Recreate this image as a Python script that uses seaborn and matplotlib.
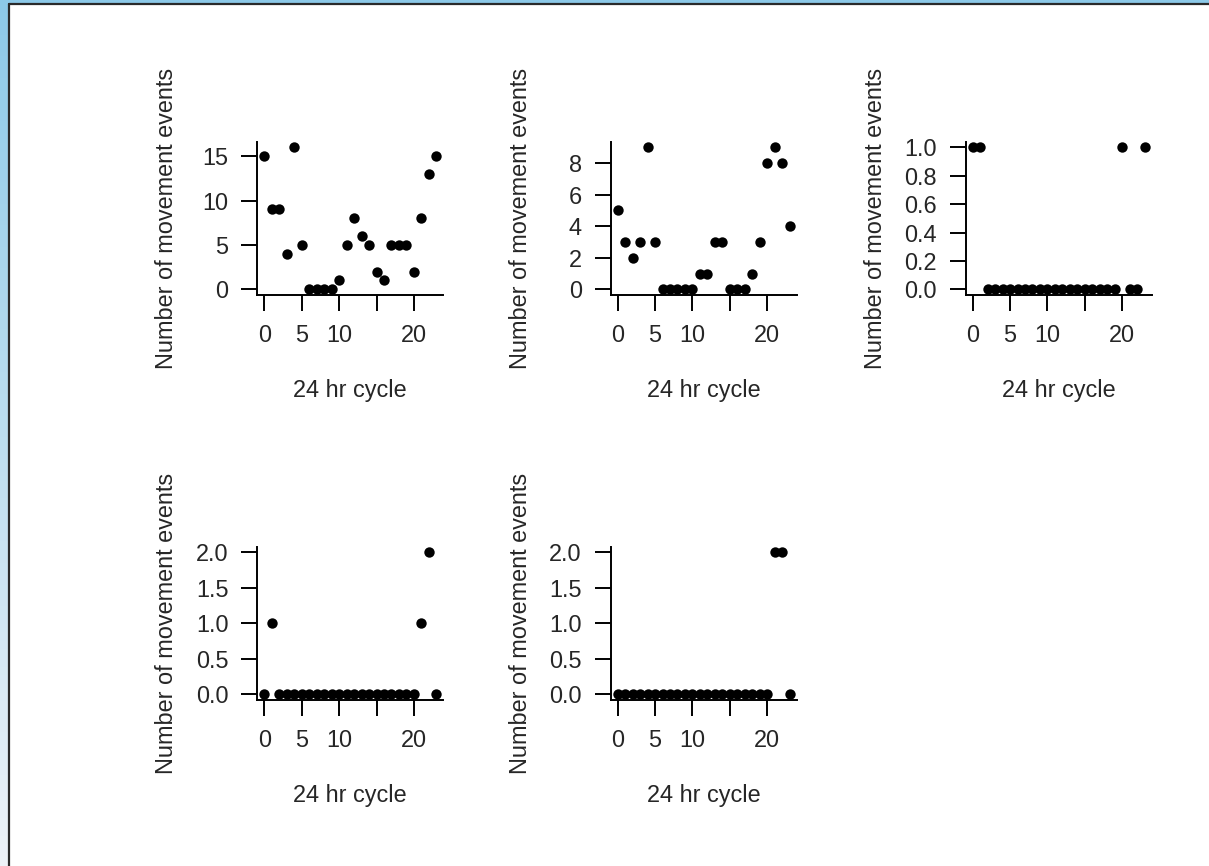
import numpy as np
import pandas as pd
import matplotlib
matplotlib.use("Agg")
import matplotlib.pyplot as plt
import seaborn as sns

# ---- data ----
hours = list(range(24))
panel_a = [15, 9, 9, 4, 16, 5, 0, 0, 0, 0, 1, 5, 8, 6, 5, 2, 1, 5, 5, 5, 2, 8, 13, 15]
panel_b = [5, 3, 2, 3, 9, 3, 0, 0, 0, 0, 0, 1, 1, 3, 3, 0, 0, 0, 1, 3, 8, 9, 8, 4]
panel_c = [1, 1, 0, 0, 0, 0, 0, 0, 0, 0, 0, 0, 0, 0, 0, 0, 0, 0, 0, 0, 1, 0, 0, 1]
panel_d = [0, 1, 0, 0, 0, 0, 0, 0, 0, 0, 0, 0, 0, 0, 0, 0, 0, 0, 0, 0, 0, 1, 2, 0]
panel_e = [0, 0, 0, 0, 0, 0, 0, 0, 0, 0, 0, 0, 0, 0, 0, 0, 0, 0, 0, 0, 0, 2, 2, 0]

x_ticks = [0, 5, 10, 15, 20]
x_tick_labels = ["0", "5", "10", "", "20"]
y_ticks_a = [0, 5, 10, 15]
y_ticks_b = [0, 2, 4, 6, 8]
y_ticks_c = [0.0, 0.2, 0.4, 0.6, 0.8, 1.0]
y_ticks_de = [0.0, 0.5, 1.0, 1.5, 2.0]

x_label = "24 hr cycle"
y_label = "Number of movement events"

sns.set_style("ticks")
plt.rcParams["font.family"] = ["Liberation Sans", "DejaVu Sans"]

W, H = 1209, 866
fig = plt.figure(figsize=(W / 100, H / 100), dpi=100)
fig.patch.set_facecolor("white")

# window frame decoration (screenshot border)
bg = fig.add_axes([0, 0, 1, 1], zorder=-10)
bg.set_axis_off()
grad = np.linspace(0, 1, 200)[:, None]
top_col = np.array([0.55, 0.79, 0.91])
bot_col = np.array([0.93, 0.95, 0.97])
img = top_col[None, None, :] * (1 - grad[..., None]) + bot_col[None, None, :] * grad[..., None]
bg.imshow(img, extent=[0, 8.5 / W, 0, 1], aspect="auto", transform=bg.transAxes)
bg.add_patch(plt.Rectangle((0, 1 - 3.5 / H), 1, 3.5 / H, transform=bg.transAxes, color=top_col, lw=0))
bg.plot([8.8 / W, 8.8 / W], [0, 1 - 3.5 / H], transform=bg.transAxes, color="#2a2a2a", lw=1.6)
bg.plot([8.8 / W, 1], [1 - 4.2 / H, 1 - 4.2 / H], transform=bg.transAxes, color="#2a2a2a", lw=1.6)
bg.set_xlim(0, 1)
bg.set_ylim(0, 1)

FS = 16.9
AX_W, AX_H = 186.0, 153.3

def make_axes(left, top):
    return fig.add_axes([left / W, 1 - (top + AX_H) / H, AX_W / W, AX_H / H])

panels = [
    (panel_a, y_ticks_a, (257.3, 141.7), "{:g}"),
    (panel_b, y_ticks_b, (610.7, 141.7), "{:g}"),
    (panel_c, y_ticks_c, (965.7, 141.7), "{:.1f}"),
    (panel_d, y_ticks_de, (257.3, 546.7), "{:.1f}"),
    (panel_e, y_ticks_de, (610.7, 546.7), "{:.1f}"),
]

for vals, yt, box, fmt in panels:
    ax = make_axes(*box)
    df = pd.DataFrame({"hour": hours, "events": vals})
    sns.scatterplot(data=df, x="hour", y="events", ax=ax, color="black",
                    s=56, linewidth=0, legend=False, clip_on=False)
    xr = max(hours) - min(hours)
    ax.set_xlim(min(hours) - 0.04 * xr, max(hours) + 0.04 * xr)
    yr = max(vals) - min(vals)
    ax.set_ylim(min(vals) - 0.04 * yr, max(vals) + 0.04 * yr)
    ax.set_xticks(x_ticks)
    ax.set_xticklabels(x_tick_labels)
    ax.set_yticks(yt)
    ax.set_yticklabels([fmt.format(v) for v in yt])
    ax.set_facecolor("none")
    for s in ["top", "right"]:
        ax.spines[s].set_visible(False)
    for s in ["left", "bottom"]:
        ax.spines[s].set_linewidth(1.4)
        ax.spines[s].set_color("black")
    ax.tick_params(axis="both", direction="out", length=11.5, width=1.4,
                   colors="black", labelsize=FS, labelcolor="#262626")
    ax.tick_params(axis="y", pad=9.3)
    ax.tick_params(axis="x", pad=9.5)
    ax.set_xlabel(x_label, fontsize=FS, color="#262626")
    ax.set_ylabel(y_label, fontsize=FS, color="#262626")
    ax.xaxis.set_label_coords(0.5, -84.0 / AX_H)
    ax.yaxis.set_label_coords(-79.0 / AX_W, 0.5)

fig.savefig("out.png", dpi=100)
